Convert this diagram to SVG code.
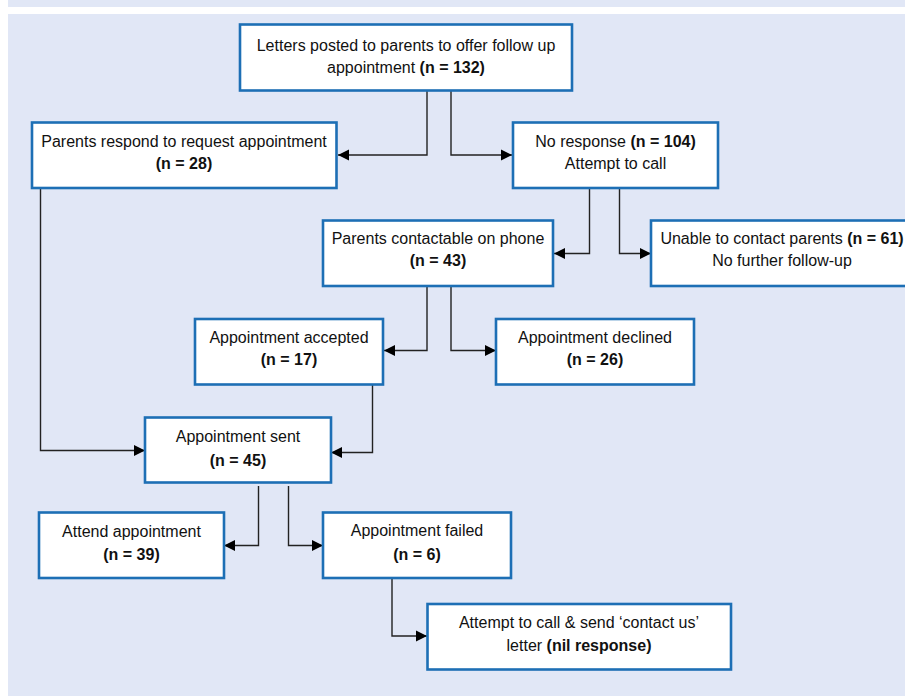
<svg xmlns="http://www.w3.org/2000/svg" width="905" height="696" viewBox="0 0 905 696">
<defs>
<marker id="ah" markerUnits="userSpaceOnUse" markerWidth="12" markerHeight="12" refX="11" refY="6" orient="auto">
<path d="M0,0.5 L11,6 L0,11.5 z" fill="#000"/>
</marker>
<style>
.box{fill:#fff;stroke:#1d6fb5;stroke-width:2.6}
.t{font-family:"Liberation Sans",Arial,sans-serif;font-size:16px;fill:#111;text-anchor:middle}
.b{font-weight:bold}
.c{fill:none;stroke:#222;stroke-width:1.4;marker-end:url(#ah)}
</style>
</defs>
<rect x="0" y="0" width="905" height="696" fill="#fff"/>
<rect x="8" y="0" width="897" height="7" fill="#e1e7f6"/>
<rect x="8" y="14" width="897" height="682" fill="#e1e7f6"/>
<g id="connectors">
<path class="c" d="M427 91 V155 H338"/>
<path class="c" d="M451 91 V155 H512"/>
<path class="c" d="M589.5 188 V253.5 H554"/>
<path class="c" d="M619.5 188 V253.5 H651"/>
<path class="c" d="M427 286 V350.5 H384"/>
<path class="c" d="M451 286 V350.5 H496"/>
<path class="c" d="M40.5 188 V450.5 H145"/>
<path class="c" d="M372.5 384 V452.5 H331"/>
<path class="c" d="M258.5 486 V545.5 H224"/>
<path class="c" d="M288.5 486 V545.5 H323"/>
<path class="c" d="M392 578 V636 H427"/>
</g>
<g id="n1"><rect class="box" x="240" y="24.5" width="332" height="66"/>
<text class="t" x="406" y="51">Letters posted to parents to offer follow up</text>
<text class="t" x="406" y="73">appointment <tspan class="b">(n = 132)</tspan></text></g>
<g id="n2"><rect class="box" x="32" y="122.5" width="304.5" height="65.5"/>
<text class="t" x="184" y="147">Parents respond to request appointment</text>
<text class="t b" x="184" y="169">(n = 28)</text></g>
<g id="n3"><rect class="box" x="513" y="122.5" width="205" height="65.5"/>
<text class="t" x="615.5" y="147">No response <tspan class="b">(n = 104)</tspan></text>
<text class="t" x="615.5" y="169">Attempt to call</text></g>
<g id="n4"><rect class="box" x="323" y="220.5" width="230" height="65.5"/>
<text class="t" x="438" y="244">Parents contactable on phone</text>
<text class="t b" x="438" y="266">(n = 43)</text></g>
<g id="n5"><rect class="box" x="651" y="220.5" width="262" height="65.5"/>
<text class="t" x="782" y="244">Unable to contact parents <tspan class="b">(n = 61)</tspan></text>
<text class="t" x="782" y="266">No further follow-up</text></g>
<g id="n6"><rect class="box" x="195" y="319" width="188" height="65.5"/>
<text class="t" x="289" y="343">Appointment accepted</text>
<text class="t b" x="289" y="365">(n = 17)</text></g>
<g id="n7"><rect class="box" x="496" y="319" width="198" height="65.5"/>
<text class="t" x="595" y="343">Appointment declined</text>
<text class="t b" x="595" y="365">(n = 26)</text></g>
<g id="n8"><rect class="box" x="145" y="417.5" width="186" height="65"/>
<text class="t" x="238" y="442">Appointment sent</text>
<text class="t b" x="238" y="466">(n = 45)</text></g>
<g id="n9"><rect class="box" x="39" y="512.5" width="185" height="65.5"/>
<text class="t" x="131.5" y="536.5">Attend appointment</text>
<text class="t b" x="131.5" y="560">(n = 39)</text></g>
<g id="n10"><rect class="box" x="323" y="512.5" width="188" height="65.5"/>
<text class="t" x="417" y="536">Appointment failed</text>
<text class="t b" x="417" y="559.5">(n = 6)</text></g>
<g id="n11"><rect class="box" x="427.5" y="604" width="303.5" height="65.5"/>
<text class="t" x="579" y="628">Attempt to call &amp; send ‘contact us’</text>
<text class="t" x="579" y="650.5">letter <tspan class="b">(nil response)</tspan></text></g>
</svg>
